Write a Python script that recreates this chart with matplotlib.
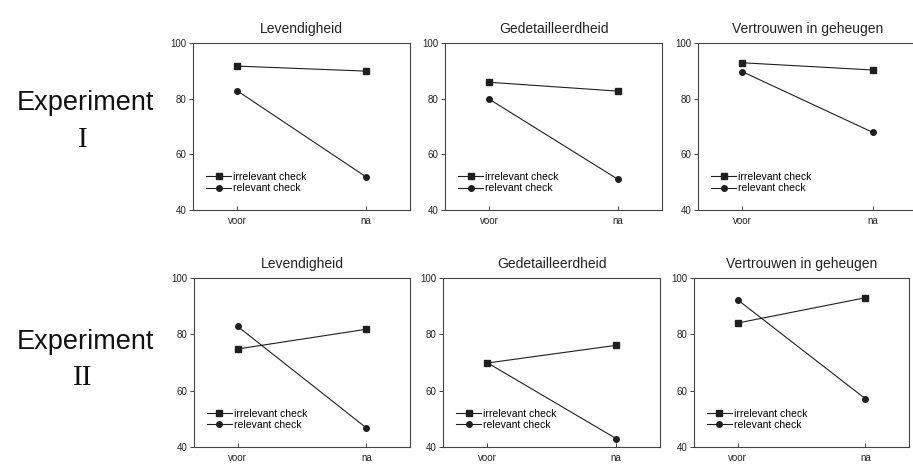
import numpy as np
import matplotlib
matplotlib.use("Agg")
import matplotlib.pyplot as plt

# Data (scores 0-100)
measures = ["Levendigheid", "Gedetailleerdheid", "Vertrouwen in geheugen"]
moments = ["voor", "na"]
series_labels = ["irrelevant check", "relevant check"]

exp1_irrelevant = [[91.7, 89.9], [85.9, 82.7], [92.9, 90.3]]
exp1_relevant = [[82.9, 51.9], [79.9, 51.0], [89.7, 67.9]]
exp2_irrelevant = [[74.8, 81.8], [69.8, 76.1], [84.0, 93.0]]
exp2_relevant = [[82.8, 46.8], [70.0, 43.0], [92.3, 57.1]]

y_ticks = [40, 60, 80, 100]

W, H = 913, 465

# axes boxes in pixels: (left, top, right, bottom)
# top-right panel runs off the page in the scan, so its right edge is past W
boxes = [
    [(193, 43, 410, 210), (445, 43, 662, 210), (698, 43, 917, 210)],
    [(194, 278, 410, 447), (443, 278, 660, 447), (694, 278, 909, 447)],
]


def px_axes(fig, box):
    """Create axes from a pixel box."""
    l, t, r, b = box
    return fig.add_axes([l / W, 1 - b / H, (r - l) / W, (b - t) / H])


def draw_panel(ax, title, irr, rel):
    """Draw one pre/post panel with the two check conditions."""
    x = np.arange(len(moments))
    ax.plot(x, irr, color="#1f1f1f", lw=0.8, marker="s", ms=4, label=series_labels[0])
    ax.plot(x, rel, color="#1f1f1f", lw=0.8, marker="o", ms=4, label=series_labels[1])
    ax.set_xlim(-0.34, 1.34)
    ax.set_ylim(40, 100)
    ax.set_yticks(y_ticks)
    ax.set_xticks(x)
    ax.set_xticklabels(moments)
    ax.tick_params(axis="y", direction="out", length=3, width=0.6, labelsize=7, pad=1.5, colors="#222")
    ax.tick_params(axis="x", direction="in", length=3, width=0.6, labelsize=7, pad=4, colors="#222")
    for s in ax.spines.values():
        s.set_linewidth(0.8)
        s.set_color("#444")
    ax.set_title(title, fontsize=10, pad=7, color="#222")
    ax.legend(loc="lower left", bbox_to_anchor=(0.06, 0.1), frameon=False, fontsize=7.5,
              handlelength=2.4, handletextpad=0.2, labelspacing=0.15, borderpad=0,
              borderaxespad=0)


plt.rcParams["font.family"] = ["Liberation Sans", "DejaVu Sans"]
fig = plt.figure(figsize=(W / 100, H / 100), dpi=100)

data = [(exp1_irrelevant, exp1_relevant), (exp2_irrelevant, exp2_relevant)]
for row, (irr_all, rel_all) in enumerate(data):
    for col, title in enumerate(measures):
        ax = px_axes(fig, boxes[row][col])
        draw_panel(ax, title, irr_all[col], rel_all[col])

# row labels
row_names = ["I", "II"]
row_y = [(103, 140), (342, 378)]
for name, (y_exp, y_num) in zip(row_names, row_y):
    fig.text(85 / W, 1 - y_exp / H, "Experiment", fontsize=19.5, ha="center", va="center", color="#111")
    fig.text(83 / W, 1 - y_num / H, name, fontsize=21, ha="center", va="center",
             family=["Liberation Serif", "DejaVu Serif"], color="#111")

fig.savefig("out.png", dpi=100)
